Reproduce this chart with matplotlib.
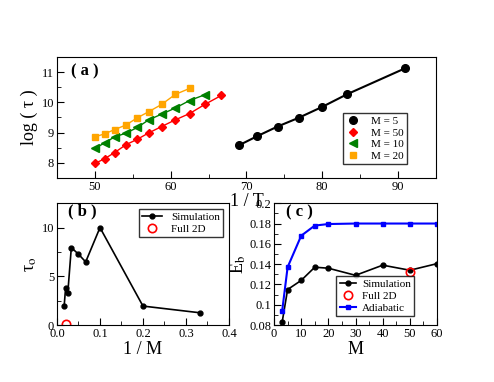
import matplotlib
matplotlib.use("Agg")
import matplotlib.pyplot as plt
from matplotlib.ticker import MultipleLocator

plt.rcParams['font.family'] = ['Liberation Serif', 'DejaVu Serif']
plt.rcParams['mathtext.fontset'] = 'stix'
plt.rcParams['xtick.direction'] = 'in'
plt.rcParams['ytick.direction'] = 'in'

# panel (a): log(tau) vs 1/T
x_m5 = [69.0, 71.4, 74.1, 76.9, 80.0, 83.3, 90.9]
y_m5 = [8.58, 8.88, 9.20, 9.49, 9.85, 10.27, 11.12]
x_m50 = [50.0, 51.3, 52.6, 54.1, 55.6, 57.1, 58.8, 60.6, 62.5, 64.5, 66.7]
y_m50 = [7.98, 8.14, 8.34, 8.60, 8.78, 8.99, 9.20, 9.42, 9.63, 9.93, 10.23]
x_m10 = [50.0, 51.3, 52.6, 54.1, 55.6, 57.1, 58.8, 60.6, 62.5, 64.5]
y_m10 = [8.48, 8.66, 8.86, 8.98, 9.17, 9.42, 9.61, 9.81, 10.06, 10.25]
x_m20 = [50.0, 51.3, 52.6, 54.1, 55.6, 57.1, 58.8, 60.6, 62.5]
y_m20 = [8.86, 8.96, 9.10, 9.25, 9.49, 9.69, 9.93, 10.26, 10.46]

# panel (b): tau_o vs 1/M
inv_m = [0.0167, 0.02, 0.025, 0.0333, 0.05, 0.0667, 0.1, 0.2, 0.333]
tau_o = [1.98, 3.82, 3.24, 7.95, 7.27, 6.48, 10.0, 1.95, 1.26]
inv_m_2d = [0.02]
tau_o_2d = [0.15]

# panel (c): E_b vs M
m_vals = [3, 5, 10, 15, 20, 30, 40, 50, 60]
eb_sim = [0.083, 0.115, 0.124, 0.137, 0.136, 0.129, 0.139, 0.134, 0.1405]
eb_adia = [0.094, 0.137, 0.168, 0.178, 0.1795, 0.180, 0.180, 0.180, 0.180]
m_2d = [50]
eb_2d = [0.1325]

fig = plt.figure(figsize=(4.94, 3.82), dpi=100)


def style_ticks(ax):
    ax.tick_params(labelsize=9, length=5, pad=2)
    ax.tick_params(which='minor', length=3)


# ---- (a)
ax1 = fig.add_axes([0.1154, 0.534, 0.767, 0.317])
ax1.plot(x_m5, y_m5, color='black', lw=1.5, marker='o', ms=5.5, label='M = 5')
ax1.plot(x_m50, y_m50, color='red', lw=1.0, marker='D', ms=4, label='M = 50')
ax1.plot(x_m10, y_m10, color='green', lw=1.0, marker='<', ms=5.5, label='M = 10')
ax1.plot(x_m20, y_m20, color='orange', lw=1.0, marker='s', ms=5, label='M = 20')
ax1.set_xlim(45, 95)
ax1.set_ylim(7.5, 11.5)
ax1.xaxis.set_major_locator(MultipleLocator(10))
ax1.xaxis.set_minor_locator(MultipleLocator(5))
ax1.yaxis.set_major_locator(MultipleLocator(1))
ax1.yaxis.set_minor_locator(MultipleLocator(0.5))
style_ticks(ax1)
ax1.set_xlabel('1 / T', fontsize=13, labelpad=0)
ax1.set_ylabel('log ( τ )', fontsize=13, labelpad=3)
ax1.text(0.037, 0.845, '( a )', transform=ax1.transAxes, fontsize=12,
         fontweight='bold')
leg1 = ax1.legend(loc='lower right', bbox_to_anchor=(0.923, 0.116), fontsize=8,
                  frameon=True, fancybox=False, edgecolor='black',
                  borderaxespad=0, handlelength=1.2, handletextpad=1.0,
                  borderpad=0.3, labelspacing=0.15)
for h in leg1.get_lines():
    h.set_linestyle('')

# ---- (b)
ax2 = fig.add_axes([0.1154, 0.149, 0.348, 0.319])
ax2.plot(inv_m, tau_o, color='black', lw=1.2, marker='o', ms=3.5,
         label='Simulation')
ax2.plot(inv_m_2d, tau_o_2d, ls='', marker='o', ms=6, mfc='none',
         mec='red', mew=1.2, label='Full 2D')
ax2.set_xlim(0, 0.4)
ax2.set_ylim(0, 12.5)
ax2.xaxis.set_major_locator(MultipleLocator(0.1))
ax2.xaxis.set_minor_locator(MultipleLocator(0.05))
ax2.yaxis.set_major_locator(MultipleLocator(5))
ax2.yaxis.set_minor_locator(MultipleLocator(2.5))
style_ticks(ax2)
ax2.set_xlabel('1 / M', fontsize=13, labelpad=1)
ax2.set_ylabel(r'τ$_\mathrm{o}$', fontsize=13, labelpad=2)
ax2.text(0.065, 0.9, '( b )', transform=ax2.transAxes, fontsize=12,
         fontweight='bold')
ax2.legend(loc='upper right', fontsize=8, frameon=True, fancybox=False,
           edgecolor='black', handlelength=1.8, borderpad=0.3,
           labelspacing=0.2)

# ---- (c)
ax3 = fig.add_axes([0.5547, 0.149, 0.330, 0.319])
ax3.plot(m_vals, eb_sim, color='black', lw=1.2, marker='o', ms=3.5,
         label='Simulation')
ax3.plot(m_2d, eb_2d, ls='', marker='o', ms=6, mfc='none', mec='red',
         mew=1.2, label='Full 2D')
ax3.plot(m_vals, eb_adia, color='blue', lw=1.5, marker='s', ms=3.5,
         label='Adiabatic')
ax3.set_xlim(0, 60)
ax3.set_ylim(0.08, 0.2)
ax3.xaxis.set_major_locator(MultipleLocator(10))
ax3.xaxis.set_minor_locator(MultipleLocator(5))
ax3.yaxis.set_minor_locator(MultipleLocator(0.01))
ax3.set_yticks([0.08, 0.1, 0.12, 0.14, 0.16, 0.18, 0.2])
ax3.set_yticklabels(['0.08', '0.1', '0.12', '0.14', '0.16', '0.18', '0.2'])
style_ticks(ax3)
ax3.set_xlabel('M', fontsize=13, labelpad=1)
ax3.set_ylabel(r'E$_\mathrm{b}$', fontsize=13, labelpad=1)
ax3.text(0.074, 0.89, '( c )', transform=ax3.transAxes, fontsize=12,
         fontweight='bold')
ax3.legend(loc='lower right', bbox_to_anchor=(0.86, 0.074), fontsize=8,
           frameon=True, fancybox=False, edgecolor='black',
           borderaxespad=0, handlelength=1.5, handletextpad=0.5,
           borderpad=0.3, labelspacing=0.2)

fig.savefig('out.png', dpi=100)
